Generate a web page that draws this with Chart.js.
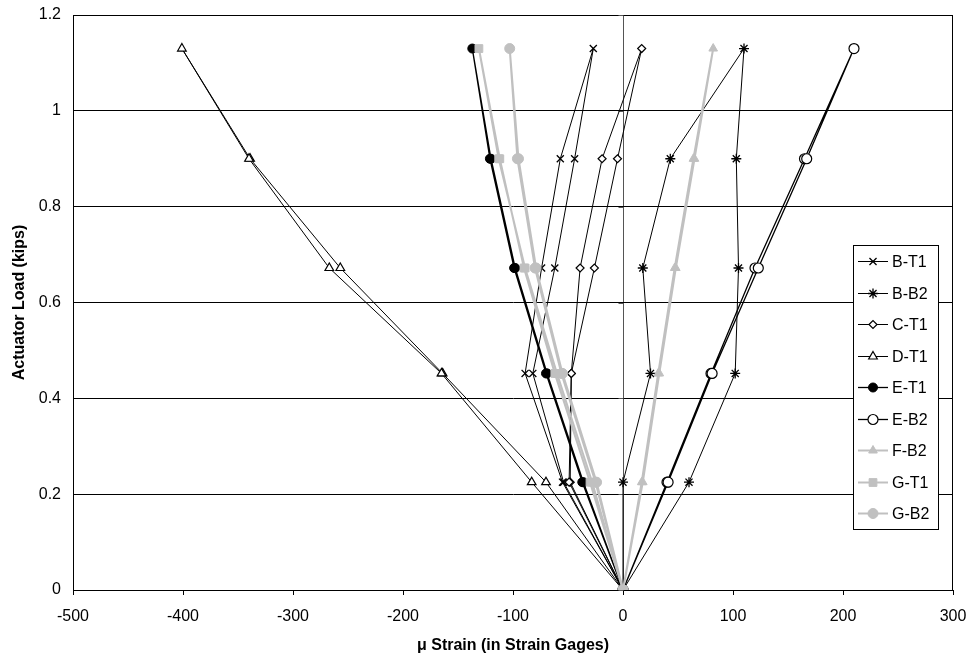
<!DOCTYPE html>
<html>
<head>
<meta charset="utf-8">
<script src="https://cdn.jsdelivr.net/npm/chart.js@4.4.1/dist/chart.umd.min.js"></script>
<style>
  html, body { margin: 0; padding: 0; background: #fff; }
  #wrap { width: 973px; height: 660px; }
</style>
</head>
<body>
<div id="wrap"><canvas id="c" width="973" height="660"></canvas></div>
<script>
// Load steps: loading up to the peak, then unloading back to zero (kips)
const LOAD = [0, 0.225, 0.452, 0.672, 0.900, 1.130, 0.900, 0.672, 0.452, 0.225, 0];

// Micro-strain readings for each gage, in the same order as LOAD
const B_T1 = [0, -54, -82, -62, -44, -27, -57, -74, -89, -55, 0];
const B_B2 = [0, 0, 25, 18, 43, 110, 103, 105, 102, 60, 0];
const C_T1 = [0, -48, -47, -26, -5, 17, -19, -39, -47, -49, 0];
const D_T1 = [0, -70, -164, -257, -339, -401, -340, -267, -165, -83, 0];
const E_T1 = [0, -36, -69, -98, -120, -137, -121, -99, -70, -37, 0];
const E_B2 = [0, 40, 80, 120, 165, 210, 167, 123, 81, 41, 0];
const F_B2 = [0, 17, 32, 47, 64, 82, 65, 48, 33, 18, 0];
const G_T1 = [0, -30, -62, -90, -112, -131, -113, -89, -60, -28, 0];
const G_B2 = [0, -25, -56, -80, -96, -103, -95, -79, -55, -24, 0];

const SERIES_NAMES = ['B-T1', 'B-B2', 'C-T1', 'D-T1', 'E-T1', 'E-B2', 'F-B2', 'G-T1', 'G-B2'];
const SERIES_VALUES = [B_T1, B_B2, C_T1, D_T1, E_T1, E_B2, F_B2, G_T1, G_B2];

// Axis ticks
const X_TICKS = [-500, -400, -300, -200, -100, 0, 100, 200, 300];
const Y_TICKS = [0, 0.2, 0.4, 0.6, 0.8, 1, 1.2];
const Y_TICK_LABELS = ['0', '0.2', '0.4', '0.6', '0.8', '1', '1.2'];

const BLACK = '#000000';
const GREY = '#c0c0c0';

// Marker / line look per gage
const STYLES = [
  { color: BLACK, fill: BLACK, point: 'crossRot', r: 5, lw: 1, pbw: 1.3 },
  { color: BLACK, fill: BLACK, point: 'star', r: 5, lw: 1, pbw: 1.3 },
  { color: BLACK, fill: '#ffffff', point: 'rectRot', r: 4, lw: 1, pbw: 1.2 },
  { color: BLACK, fill: '#ffffff', point: 'triangle', r: 5, lw: 1, pbw: 1.2 },
  { color: BLACK, fill: BLACK, point: 'circle', r: 4.5, lw: 1.3, pbw: 1 },
  { color: BLACK, fill: '#ffffff', point: 'circle', r: 5, lw: 1.3, pbw: 1.2 },
  { color: GREY, fill: GREY, point: 'triangle', r: 5, lw: 2, pbw: 1 },
  { color: GREY, fill: GREY, point: 'rect', r: 5.5, lw: 2, pbw: 1 },
  { color: GREY, fill: GREY, point: 'circle', r: 5, lw: 2, pbw: 1 }
];

const datasets = SERIES_NAMES.map((name, i) => ({
  label: name,
  data: SERIES_VALUES[i].map((x, k) => ({ x: x, y: LOAD[k] })),
  borderColor: STYLES[i].color,
  backgroundColor: STYLES[i].fill,
  pointBorderColor: STYLES[i].color,
  pointBackgroundColor: STYLES[i].fill,
  pointStyle: STYLES[i].point,
  pointRadius: STYLES[i].r,
  pointBorderWidth: STYLES[i].pbw,
  borderWidth: STYLES[i].lw,
  showLine: true,
  tension: 0,
  fill: false,
  order: SERIES_NAMES.length - i
}));

const FONT = 'Liberation Sans, Arial, Helvetica, sans-serif';
const TEXT_SIZE = 16;

// Border around the plotting area plus short marks on the zero axis
const frameAndZeroAxis = {
  id: 'frameAndZeroAxis',
  beforeDatasetsDraw(chart) {
    const { ctx, chartArea: a, scales } = chart;
    ctx.save();
    ctx.strokeStyle = '#000';
    ctx.lineWidth = 1;
    ctx.strokeRect(Math.round(a.left) + 0.5, Math.round(a.top) + 0.5,
                   Math.round(a.right - a.left) - 1, Math.round(a.bottom - a.top));
    const x0 = Math.round(scales.x.getPixelForValue(0)) + 0.5;
    ctx.strokeStyle = '#555';
    Y_TICKS.forEach(v => {
      const y = Math.round(scales.y.getPixelForValue(v)) + 0.5;
      ctx.beginPath();
      ctx.moveTo(x0 - 5, y);
      ctx.lineTo(x0, y);
      ctx.stroke();
    });
    ctx.restore();
  }
};

// Boxed legend sitting inside the plot, on the right
const boxLegend = {
  id: 'boxLegend',
  afterDraw(chart) {
    const { ctx } = chart;
    const left = 853, right = 938, top = 245, rowH = 31.5;
    const bottom = top + rowH * SERIES_NAMES.length + 0.5;
    ctx.save();
    ctx.fillStyle = '#fff';
    ctx.fillRect(left, top, right - left, bottom - top);
    ctx.strokeStyle = '#000';
    ctx.lineWidth = 1;
    ctx.strokeRect(left + 0.5, top + 0.5, right - left, bottom - top);
    ctx.font = TEXT_SIZE + 'px ' + FONT;
    ctx.textBaseline = 'middle';
    ctx.textAlign = 'left';
    SERIES_NAMES.forEach((name, i) => {
      const s = STYLES[i];
      const y = Math.round(top + 16 + i * rowH) + 0.5;
      ctx.strokeStyle = s.color;
      ctx.lineWidth = s.lw;
      ctx.beginPath();
      ctx.moveTo(858, y);
      ctx.lineTo(888, y);
      ctx.stroke();
      ctx.fillStyle = s.fill;
      ctx.strokeStyle = s.color;
      ctx.lineWidth = s.pbw;
      Chart.helpers.drawPoint(ctx, { pointStyle: s.point, radius: s.r, rotation: 0, borderWidth: s.pbw }, 873, y);
      ctx.fillStyle = '#000';
      ctx.fillText(name, 892, y + 1);
    });
    ctx.restore();
  }
};

new Chart(document.getElementById('c'), {
  type: 'scatter',
  data: { datasets },
  plugins: [frameAndZeroAxis, boxLegend],
  options: {
    responsive: false,
    animation: false,
    devicePixelRatio: 1,
    layout: { padding: { top: 15, right: 20, left: 0, bottom: 0 } },
    plugins: { legend: { display: false }, tooltip: { enabled: false } },
    scales: {
      x: {
        type: 'linear',
        min: -500, max: 300,
        afterBuildTicks: s => { s.ticks = X_TICKS.map(v => ({ value: v })); },
        afterFit: s => { s.height = 70; s.paddingLeft = 0; s.paddingRight = 0; },
        ticks: { color: '#000', font: { family: FONT, size: TEXT_SIZE }, padding: 12, maxRotation: 0,
                 callback: v => String(v) },
        grid: {
          color: c => (c.tick && c.tick.value === 0) ? '#555' : 'rgba(0,0,0,0)',
          tickColor: '#000',
          tickLength: 5,
          lineWidth: 1
        },
        border: { display: true, color: '#000', width: 1 },
        title: { display: true, text: 'μ Strain (in Strain Gages)', color: '#000',
                 font: { family: FONT, size: TEXT_SIZE, weight: 'bold' }, padding: { top: 0, bottom: 5 } }
      },
      y: {
        type: 'linear',
        min: 0, max: 1.2,
        afterBuildTicks: s => { s.ticks = Y_TICKS.map(v => ({ value: v })); },
        afterFit: s => { s.width = 73; s.paddingTop = 0; s.paddingBottom = 0; },
        ticks: { color: '#000', font: { family: FONT, size: TEXT_SIZE }, padding: 12,
                 callback: (v, i) => Y_TICK_LABELS[i] },
        grid: { color: '#000', drawTicks: false, lineWidth: 1 },
        border: { display: true, color: '#000', width: 1 },
        title: { display: true, text: 'Actuator Load (kips)', color: '#000',
                 font: { family: FONT, size: TEXT_SIZE, weight: 'bold' }, padding: { top: 10, bottom: 0 } }
      }
    }
  }
});
</script>
</body>
</html>
